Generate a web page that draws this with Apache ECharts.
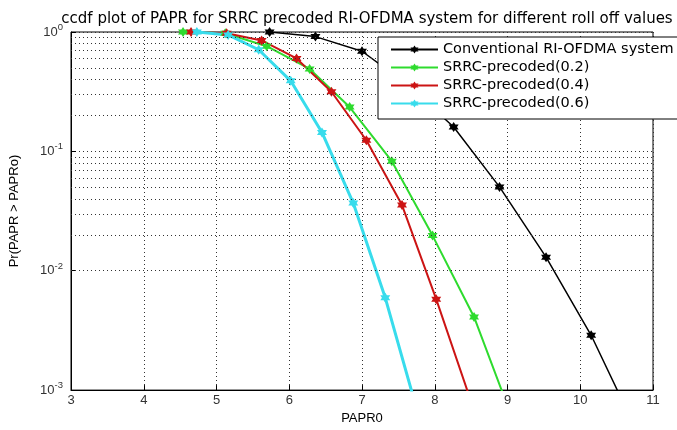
<!DOCTYPE html>
<html>
<head>
<meta charset="utf-8">
<script src="https://cdn.jsdelivr.net/npm/echarts@6/dist/echarts.min.js"></script>
<style>html,body{margin:0;padding:0;background:#fff;}#c{width:677px;height:430px;}</style>
</head>
<body>
<div id="c"></div>
<script>
const titleText = 'ccdf plot of PAPR for SRRC precoded RI-OFDMA system for different roll off values';
const seriesNames = ['Conventional RI-OFDMA system', 'SRRC-precoded(0.2)', 'SRRC-precoded(0.4)', 'SRRC-precoded(0.6)'];
const xTicks = [3, 4, 5, 6, 7, 8, 9, 10, 11];
const yDecades = [0.001, 0.01, 0.1, 1];

const convX = [5.73, 6.36, 7.0, 7.63, 8.26, 8.89, 9.53, 10.15, 10.78];
const convY = [1.0, 0.915, 0.69, 0.36, 0.16, 0.0504, 0.013, 0.00288, 0.00045];
const s02X = [4.54, 5.12, 5.69, 6.28, 6.83, 7.41, 7.97, 8.54, 9.11];
const s02Y = [1.0, 0.975, 0.76, 0.49, 0.235, 0.0828, 0.0197, 0.0041, 0.00049];
const s04X = [4.65, 5.14, 5.62, 6.10, 6.58, 7.06, 7.55, 8.02, 8.50];
const s04Y = [1.0, 0.975, 0.85, 0.60, 0.316, 0.124, 0.0355, 0.00578, 0.0008];
const s06X = [4.73, 5.16, 5.58, 6.02, 6.45, 6.88, 7.32, 7.75];
const s06Y = [1.0, 0.945, 0.71, 0.39, 0.144, 0.0369, 0.00593, 0.0007];

const hexagram = 'path://M10,0 L12.887,5 L18.66,5 L15.77,10 L18.66,15 L12.887,15 L10,20 L7.113,15 L1.34,15 L4.23,10 L1.34,5 L7.113,5 Z';
const dotted = {color: '#333', width: 1, type: [1, 3]};

function pairs(xs, ys) { return xs.map((x, i) => [x, ys[i]]); }

const minorLines = [];
for (let d = 0; d < yDecades.length - 1; d++) {
  for (let m = 2; m <= 9; m++) minorLines.push({yAxis: yDecades[d] * m});
}

function mkSeries(name, xs, ys, color, width, extra) {
  return Object.assign({
    name: name, type: 'line', data: pairs(xs, ys),
    symbol: hexagram, symbolSize: 10, showSymbol: true,
    lineStyle: {color: color, width: width},
    itemStyle: {color: color},
    clip: true, animation: false
  }, extra || {});
}

const chart = echarts.init(document.getElementById('c'), null, {renderer: 'canvas'});
chart.setOption({
  backgroundColor: '#fff',
  animation: false,
  title: {
    text: titleText, left: 362, top: 7, textAlign: 'center',
    textStyle: {fontFamily: 'DejaVu Sans', fontSize: 15, fontWeight: 'normal', color: '#000'}
  },
  grid: {left: 71, right: 24, top: 32, bottom: 31, show: true, borderColor: '#000', borderWidth: 1, backgroundColor: 'transparent'},
  legend: {
    orient: 'vertical', left: 378, top: 37, z: 20,
    itemWidth: 47, itemHeight: 10, itemGap: 3,
    padding: [5, 40, 8, 12],
    backgroundColor: '#fff', borderColor: '#000', borderWidth: 1,
    textStyle: {fontFamily: 'DejaVu Sans', fontSize: 14.5, color: '#000'},
    data: seriesNames
  },
  xAxis: {
    type: 'value', min: xTicks[0], max: xTicks[xTicks.length - 1], interval: 1,
    name: 'PAPR0', nameLocation: 'middle', nameGap: 21,
    nameTextStyle: {fontFamily: 'Liberation Sans', fontSize: 13, color: '#000'},
    axisLine: {lineStyle: {color: '#000', width: 1}},
    axisTick: {inside: true, length: 5, lineStyle: {color: '#000'}},
    axisLabel: {fontFamily: 'Liberation Sans', fontSize: 13, color: '#333', margin: 4},
    splitLine: {show: true, lineStyle: dotted}
  },
  yAxis: {
    type: 'log', logBase: 10, min: yDecades[0], max: yDecades[yDecades.length - 1],
    name: 'Pr(PAPR > PAPRo)', nameLocation: 'middle', nameGap: 50,
    nameTextStyle: {fontFamily: 'Liberation Sans', fontSize: 13, color: '#000'},
    axisLine: {show: true, lineStyle: {color: '#000', width: 1}},
    axisTick: {inside: true, length: 5, lineStyle: {color: '#000'}},
    axisLabel: {
      margin: 8, color: '#333',
      formatter: function (v) { return '{b|10}{s|' + Math.round(Math.log10(v)) + '}'; },
      rich: {
        b: {fontFamily: 'Liberation Sans', fontSize: 13, color: '#333'},
        s: {fontFamily: 'Liberation Sans', fontSize: 9.5, color: '#333', padding: [0, 0, 9, 0]}
      }
    },
    splitLine: {show: true, lineStyle: dotted}
  },
  series: [
    mkSeries(seriesNames[0], convX, convY, '#000000', 1.5, {
      markLine: {
        silent: true, symbol: 'none', label: {show: false},
        lineStyle: dotted, animation: false, data: minorLines
      }
    }),
    mkSeries(seriesNames[1], s02X, s02Y, '#2edb2e', 2),
    mkSeries(seriesNames[2], s04X, s04Y, '#cc1414', 2),
    mkSeries(seriesNames[3], s06X, s06Y, '#38dcec', 3)
  ]
});
</script>
</body>
</html>
